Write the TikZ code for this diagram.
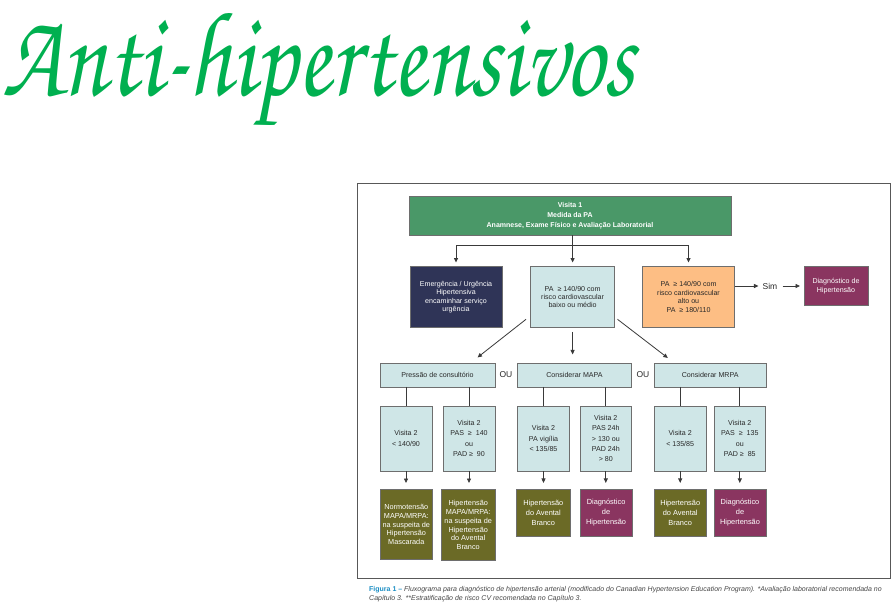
\documentclass[tikz,border=0pt]{standalone}
\usepackage{fontspec}
\setmainfont{Liberation Sans}
\newfontfamily\chorus{TeX Gyre Chorus}
\usetikzlibrary{arrows.meta,calc}
\definecolor{titlegreen}{RGB}{0,176,80}
\definecolor{topgreen}{RGB}{74,152,104}
\definecolor{navyb}{RGB}{47,52,87}
\definecolor{lightb}{RGB}{207,230,231}
\definecolor{orangeb}{RGB}{253,190,132}
\definecolor{purpleb}{RGB}{138,53,96}
\definecolor{oliveb}{RGB}{107,106,38}
\definecolor{linec}{RGB}{58,58,58}
\definecolor{borderc}{RGB}{110,110,110}
\definecolor{txt}{RGB}{40,40,40}
\definecolor{capblue}{RGB}{27,142,196}
\definecolor{capgray}{RGB}{70,70,70}
\tikzset{
  basebox/.style={draw=borderc, line width=0.8pt, inner sep=0pt, outer sep=0pt, align=center,
    font=\fontsize{7.1}{8.4}\selectfont},
  light/.style={basebox, fill=lightb, text=txt},
  dark/.style={basebox, fill=navyb, text=white},
  orng/.style={basebox, fill=orangeb, text=txt},
  purp/.style={basebox, fill=purpleb, text=white},
  olive/.style={basebox, fill=oliveb, text=white},
  topbox/.style={basebox, fill=topgreen, text=white, font=\fontsize{7}{9.7}\selectfont\bfseries},
  conn/.style={draw=linec, line width=0.8pt},
  arr/.style={conn, -{Triangle[length=4.5pt,width=4pt]}},
  lbl/.style={inner sep=0pt, text=txt, font=\fontsize{8.5}{10}\selectfont},
  r3/.style={font=\fontsize{7.1}{10.2}\selectfont},
  r4/.style={font=\fontsize{7.3}{8.8}\selectfont},
  r4b/.style={font=\fontsize{7.4}{10.3}\selectfont},
}
\begin{document}
\begin{tikzpicture}[x=1pt,y=-1pt]
\useasboundingbox (0,0) rectangle (894,606);
\fill[white] (0,0) rectangle (894,606);

% title
\node[anchor=north west, inner sep=0pt, text=titlegreen] (title) at (2,13)
  {\resizebox*{632pt}{112pt}{\chorus Anti-hipertensivos}};

% frame
\draw[draw=borderc!80!black, line width=1pt] (357,183) rectangle (890,578);

% row 0 / 1
\node[topbox, minimum width=322pt, minimum height=39pt] (top) at (570,215.5)
  {Visita 1\\Medida da PA\\Anamnese, Exame Físico e Avaliação Laboratorial};
\node[dark, minimum width=92pt, minimum height=61pt] (navy) at (456,297)
  {Emergência / Urgência\\Hipertensiva\\encaminhar serviço\\urgência};
\node[light, minimum width=84.4pt, minimum height=61pt] (blue) at (572.6,297)
  {PA \ ≥ 140/90 com\\risco cardiovascular\\baixo ou médio};
\node[orng, minimum width=92pt, minimum height=61pt] (orange) at (688.5,297)
  {PA \ ≥ 140/90 com\\risco cardiovascular\\alto ou\\PA \ ≥ 180/110};
\node[lbl] (sim) at (770,286) {Sim};
\node[purp, minimum width=64pt, minimum height=39pt] (purple) at (836,286)
  {Diagnóstico de\\Hipertensão};

% row 2
\node[light, minimum width=115pt, minimum height=23.5pt] (pc) at (437.5,375.2) {Pressão de consultório};
\node[lbl] (ou1) at (506,375) {OU};
\node[light, minimum width=114.2pt, minimum height=23.5pt] (mapa) at (574.5,375.2) {Considerar MAPA};
\node[lbl] (ou2) at (643,375) {OU};
\node[light, minimum width=111.5pt, minimum height=23.5pt] (mrpa) at (710.2,375.2) {Considerar MRPA};

% row 3
\node[light, r3, minimum width=52pt, minimum height=65pt] (a3) at (406,438.5) {Visita 2\\< 140/90};
\node[light, r3, minimum width=52pt, minimum height=65pt] (b3) at (469,438.5) {Visita 2\\PAS \ ≥ \ 140\\ou\\PAD ≥ \ 90};
\node[light, r3, minimum width=52.3pt, minimum height=65pt] (c3) at (543.5,438.5) {Visita 2\\PA vigília\\< 135/85};
\node[light, r3, minimum width=51.6pt, minimum height=65pt] (d3) at (605.8,438.5) {Visita 2\\PAS 24h\\> 130 ou\\PAD 24h\\> 80};
\node[light, r3, minimum width=51.5pt, minimum height=65pt] (e3) at (680.2,438.5) {Visita 2\\< 135/85};
\node[light, r3, minimum width=51.6pt, minimum height=65pt] (f3) at (739.8,438.5) {Visita 2\\PAS \ ≥ \ 135\\ou\\PAD ≥ \ 85};

% row 4
\node[olive, r4, minimum width=52.6pt, minimum height=70pt] (a4) at (406.3,524.5)
  {Normotensão\\MAPA/MRPA:\\na suspeita de\\Hipertensão\\Mascarada};
\node[olive, r4, minimum width=54.5pt, minimum height=71pt] (b4) at (468.2,525)
  {Hipertensão\\MAPA/MRPA:\\na suspeita de\\Hipertensão\\do Avental\\Branco};
\node[olive, r4b, minimum width=54pt, minimum height=46.5pt] (c4) at (543.3,512.7)
  {Hipertensão\\do Avental\\Branco};
\node[purp, r4b, minimum width=52.2pt, minimum height=46.5pt] (d4) at (606.1,512.7)
  {Diagnóstico\\de\\Hipertensão};
\node[olive, r4b, minimum width=51.5pt, minimum height=46.5pt] (e4) at (680.2,512.7)
  {Hipertensão\\do Avental\\Branco};
\node[purp, r4b, minimum width=52pt, minimum height=46.5pt] (f4) at (740,512.7)
  {Diagnóstico\\de\\Hipertensão};

% connectors top
\coordinate (split) at ($(blue.north)+(0,-21.5)$);
\draw[conn] (top.south -| split) -- (split);
\draw[arr, shorten >=4pt] (split) -- (blue.north);
\draw[arr, shorten >=4pt] (split) -| (navy.north);
\draw[arr, shorten >=4pt] (split) -| (orange.north);
\draw[arr, shorten >=4pt] (orange.east |- sim) -- (sim.west);
\draw[arr, shorten <=5pt, shorten >=4pt] (sim.east) -- (purple.west);

% diagonals
\draw[arr] ($(blue.south west)+(-4.4,-8.2)$) -- ($(pc.north)+(40,-6)$);
\draw[arr] ($(blue.south)+(0,4.3)$) -- ($(blue.south |- mapa.north)+(0,-9)$);
\draw[arr] ($(blue.south east)+(2.7,-8.2)$) -- ($(mrpa.north)+(-42.4,-5.5)$);

% row 2 -> row 3
\foreach \b/\p in {a3/pc, b3/pc, c3/mapa, d3/mapa, e3/mrpa, f3/mrpa}
  \draw[conn] (\b.north |- \p.south) -- (\b.north);

% row 3 -> row 4
\foreach \s/\t in {a3/a4, b3/b4, c3/c4, d3/d4, e3/e4, f3/f4}
  \draw[arr, shorten >=6.5pt] (\s.south) -- (\s.south |- \t.north);

% caption
\node[anchor=base west, inner sep=0pt, align=left, text=capgray,
      font=\fontsize{7}{8.5}\selectfont] (cap) at (369,600)
  {{\color{capblue}\bfseries Figura 1 –} \itshape Fluxograma para diagnóstico de hipertensão arterial (modificado do Canadian Hypertension Education Program). *Avaliação laboratorial recomendada no\\
   \itshape Capítulo 3. **Estratificação de risco CV recomendada no Capítulo 3.};
\end{tikzpicture}
\end{document}
